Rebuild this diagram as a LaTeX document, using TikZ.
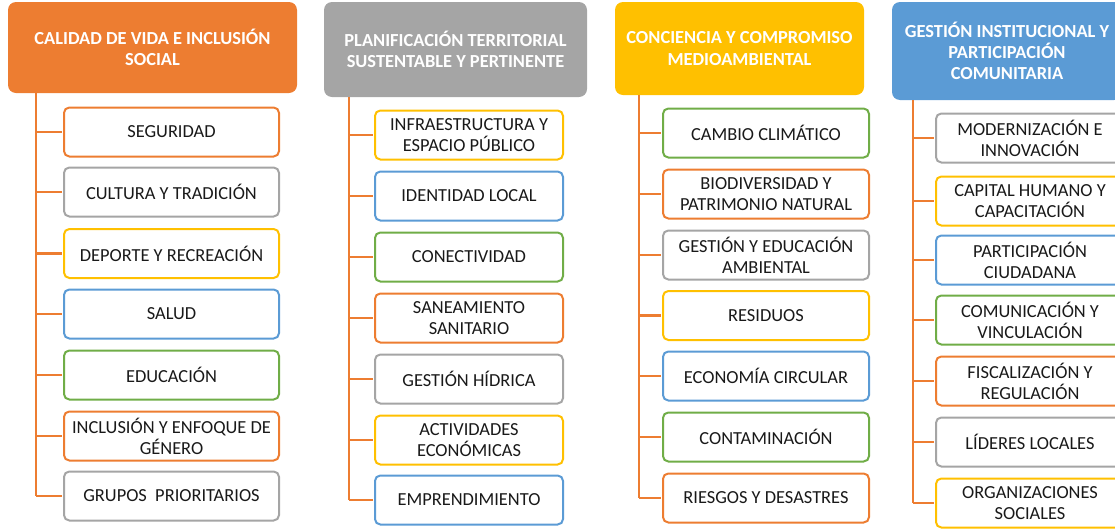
\documentclass[tikz,border=0pt]{standalone}
\usepackage{fontspec}
\setmainfont{Carlito}
\usetikzlibrary{positioning}
\definecolor{OffOrange}{RGB}{237,125,49}
\definecolor{OffGray}{RGB}{165,165,165}
\definecolor{OffGold}{RGB}{255,192,0}
\definecolor{OffBlue}{RGB}{91,155,213}
\definecolor{OffGreen}{RGB}{112,173,71}
\newcommand{\boxfont}{\fontsize{13.8}{15.8}\selectfont}
\tikzset{
  header/.style={fill=#1, rounded corners=6pt, text=white, align=center,
    font=\bfseries\boxfont, inner sep=2pt},
  item/.style={draw=#1, line width=1.5pt, rounded corners=4pt, fill=white,
    minimum height=36.75pt, align=center, text=black!90, font=\boxfont, inner sep=1pt},
  trunk/.style={OffOrange, line width=2.2pt},
  branch/.style={OffOrange, line width=1.6pt, shorten >=0.75pt},
}

\begin{document}
\begin{tikzpicture}[x=0.75pt,y=-0.75pt]
  \useasboundingbox (0,0) rectangle (1115,529);
  % headers
  \node[header=OffOrange, minimum width=216.75pt, minimum height=68.25pt] (h1) at (152.5,47.5)
    {CALIDAD DE VIDA E INCLUSIÓN\\SOCIAL};
  \node[header=OffGray, minimum width=197.25pt, minimum height=71.25pt] (h2) at (455.5,49.5)
    {PLANIFICACIÓN TERRITORIAL\\SUSTENTABLE Y PERTINENTE};
  \node[header=OffGold, minimum width=186.75pt, minimum height=69.75pt] (h3) at (739.5,48.5)
    {CONCIENCIA Y COMPROMISO\\MEDIOAMBIENTAL};
  \node[header=OffBlue, minimum width=172.5pt, minimum height=73.5pt] (h4) at (1007,51)
    {GESTIÓN INSTITUCIONAL Y\\PARTICIPACIÓN\\COMUNITARIA};
  % column 1
  \begin{scope}[every node/.append style={minimum width=161.25pt}]
    \node[item=OffOrange] (a1) at (171.5,132) {SEGURIDAD};
    \node[item=OffGray]   (a2) at (171.5,192) {CULTURA Y TRADICIÓN};
    \node[item=OffGold]   (a3) at (171.5,253.5) {DEPORTE Y RECREACIÓN};
    \node[item=OffBlue]   (a4) at (171.5,314) {SALUD};
    \node[item=OffGreen]  (a5) at (171.5,375) {EDUCACIÓN};
    \node[item=OffOrange] (a6) at (171.5,436) {INCLUSIÓN Y ENFOQUE DE\\GÉNERO};
    \node[item=OffGray]   (a7) at (171.5,496) {GRUPOS\ \ PRIORITARIOS};
  \end{scope}
  % column 2
  \begin{scope}[every node/.append style={minimum width=141pt}]
    \node[item=OffGold]   (b1) at (469,135) {INFRAESTRUCTURA Y\\ESPACIO PÚBLICO};
    \node[item=OffBlue]   (b2) at (469,196) {IDENTIDAD LOCAL};
    \node[item=OffGreen]  (b3) at (469,257) {CONECTIVIDAD};
    \node[item=OffOrange] (b4) at (469,318) {SANEAMIENTO\\SANITARIO};
    \node[item=OffGray]   (b5) at (469,379) {GESTIÓN HÍDRICA};
    \node[item=OffGold]   (b6) at (469,440) {ACTIVIDADES\\ECONÓMICAS};
    \node[item=OffBlue]   (b7) at (469,500) {EMPRENDIMIENTO};
  \end{scope}
  % column 3
  \begin{scope}[every node/.append style={minimum width=154.5pt}]
    \node[item=OffGreen]  (c1) at (766,133) {CAMBIO CLIMÁTICO};
    \node[item=OffOrange] (c2) at (766,194) {BIODIVERSIDAD Y\\PATRIMONIO NATURAL};
    \node[item=OffGray]   (c3) at (766,255) {GESTIÓN Y EDUCACIÓN\\AMBIENTAL};
    \node[item=OffGold]   (c4) at (766,315.5) {RESIDUOS};
    \node[item=OffBlue]   (c5) at (766,376) {ECONOMÍA CIRCULAR};
    \node[item=OffGreen]  (c6) at (766,437) {CONTAMINACIÓN};
    \node[item=OffOrange] (c7) at (766,498) {RIESGOS Y DESASTRES};
  \end{scope}
  % column 4
  \begin{scope}[every node/.append style={minimum width=141pt}]
    \node[item=OffGray]   (d1) at (1030,138) {MODERNIZACIÓN E\\INNOVACIÓN};
    \node[item=OffGold]   (d2) at (1030,201) {CAPITAL HUMANO Y\\CAPACITACIÓN};
    \node[item=OffBlue]   (d3) at (1030,260) {PARTICIPACIÓN\\CIUDADANA};
    \node[item=OffGreen]  (d4) at (1030,320) {COMUNICACIÓN Y\\VINCULACIÓN};
    \node[item=OffOrange] (d5) at (1030,381) {FISCALIZACIÓN Y\\REGULACIÓN};
    \node[item=OffGray]   (d6) at (1030,442) {LÍDERES LOCALES};
    \node[item=OffGold]   (d7) at (1030,503) {ORGANIZACIONES\\SOCIALES};
  \end{scope}
  % trunks and branches
  \coordinate (ta) at (36,93);
  \coordinate (tb) at (349,97);
  \coordinate (tc) at (639,95);
  \coordinate (td) at (913,100);
  \foreach \c in {a,b,c,d}{
    \draw[trunk] (t\c) -- (t\c |- \c7.west);
    \foreach \i in {1,...,7}
      \draw[branch] (t\c |- \c\i.west) -- (\c\i.west);
  }
\end{tikzpicture}
\end{document}
